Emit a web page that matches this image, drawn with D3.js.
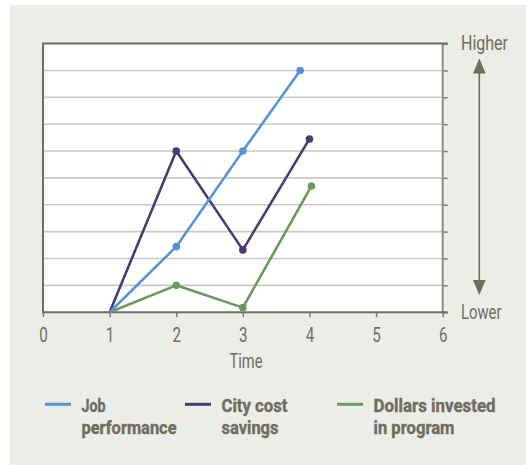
<!DOCTYPE html>
<html><head><meta charset="utf-8">
<script src="https://cdn.jsdelivr.net/npm/d3@7"></script>
<style>
html,body{margin:0;padding:0;background:#fff;}
svg{display:block;}
text{font-family:Roboto,"Liberation Sans",sans-serif;fill:#6d6d60;}
</style></head>
<body>
<script>
// ---- data ----
const seriesNames = ["Job performance", "City cost savings", "Dollars invested in program"];
const legendLines = [["Job", "performance"], ["City cost", "savings"], ["Dollars invested", "in program"]];
const seriesColors = ["#5b93d2", "#4a3c6e", "#6a9a5e"];
const jobX = [1, 2, 3, 3.86];
const jobY = [0, 2.44, 6, 9];
const cityX = [1, 2, 3, 4];
const cityY = [0, 6, 2.32, 6.45];
const dollarsX = [1, 2, 3, 4.03];
const dollarsY = [0, 1, 0.17, 4.7];
const xTicks = [0, 1, 2, 3, 4, 5, 6];
const yTicks = [0, 1, 2, 3, 4, 5, 6, 7, 8, 9, 10];
const xLabel = "Time";
const yTopLabel = "Higher";
const yBottomLabel = "Lower";

// ---- styling (text widths to mimic a condensed face) ----
const legendWidths = [[24, 95], [66, 57], [122, 81]];

const series = [
  {name: seriesNames[0], color: seriesColors[0], pts: jobX.map((x, i) => ({x, y: jobY[i]}))},
  {name: seriesNames[1], color: seriesColors[1], pts: cityX.map((x, i) => ({x, y: cityY[i]}))},
  {name: seriesNames[2], color: seriesColors[2], pts: dollarsX.map((x, i) => ({x, y: dollarsY[i]}))}
];
const drawOrder = [2, 1, 0];

const W = 526, H = 465;
const svg = d3.select("body").append("svg").attr("width", W).attr("height", H);

function fit(sel, w) {
  sel.attr("textLength", w).attr("lengthAdjust", "spacingAndGlyphs");
  return sel;
}

// panel background
svg.append("rect").attr("x", 10).attr("y", 5).attr("width", W - 10).attr("height", H - 5).attr("fill", "#ececE8");

const pL = 43, pR = 442.7, pT = 43.6, pB = 312.2;
const x = d3.scaleLinear().domain([0, 6]).range([pL, pR]);
const y = d3.scaleLinear().domain([0, 10]).range([pB, pT]);

// plot area
svg.append("rect").attr("x", pL).attr("y", pT).attr("width", pR - pL).attr("height", pB - pT).attr("fill", "#fff");

// grid
svg.append("g").selectAll("line").data(yTicks.slice(1, -1)).join("line")
  .attr("x1", pL).attr("x2", pR).attr("y1", d => y(d)).attr("y2", d => y(d))
  .attr("stroke", "#c9c9c1").attr("stroke-width", 1.6);

// right axis with outward ticks
const rightAxis = d3.axisRight(y).tickValues(yTicks).tickSize(5).tickFormat("");
const rg = svg.append("g").attr("transform", `translate(${pR},0)`).call(rightAxis);
rg.select(".domain").remove();
rg.selectAll(".tick line").attr("stroke", "#7d7d72").attr("stroke-width", 1.5);
svg.append("line").attr("x1", pR).attr("x2", pR).attr("y1", pT).attr("y2", pB)
  .attr("stroke", "#8a8a80").attr("stroke-width", 2);

// bottom axis
const bottomAxis = d3.axisBottom(x).tickValues(xTicks).tickSize(5).tickPadding(0).tickFormat(d3.format("d"));
const bg = svg.append("g").attr("transform", `translate(0,${pB})`).call(bottomAxis);
bg.select(".domain").remove();
bg.selectAll(".tick line").attr("stroke", "#7d7d72").attr("stroke-width", 1.5);
bg.selectAll(".tick text").attr("font-size", 21).attr("fill", "#6d6d60")
  .attr("font-family", "Roboto, sans-serif").attr("dy", null).attr("y", 30.3)
  .attr("textLength", 8.5).attr("lengthAdjust", "spacingAndGlyphs");

// frame: left, top, bottom
svg.append("path")
  .attr("d", `M${pR + 5},${pT}H${pL}V${pB}H${pR + 5}`)
  .attr("fill", "none").attr("stroke", "#6d6d60").attr("stroke-width", 2);

// lines
const line = d3.line().x(d => x(d.x)).y(d => y(d.y));
drawOrder.forEach(k => {
  const s = series[k];
  svg.append("path").datum(s.pts).attr("d", line)
    .attr("fill", "none").attr("stroke", s.color).attr("stroke-width", 2.6).attr("stroke-linejoin", "round");
  svg.append("g").selectAll("circle").data(s.pts.slice(1)).join("circle")
    .attr("cx", d => x(d.x)).attr("cy", d => y(d.y)).attr("r", 3.8).attr("fill", s.color);
});

// axis label
fit(svg.append("text").attr("x", 229.5).attr("y", 368.3)
  .attr("font-size", 21).text(xLabel), 33);

// Higher / Lower
const ax = 479.3;
fit(svg.append("text").attr("x", 461).attr("y", 50.2).attr("font-size", 21).text(yTopLabel), 47);
fit(svg.append("text").attr("x", 461).attr("y", 319.3).attr("font-size", 21).text(yBottomLabel), 40.5);
svg.append("line").attr("x1", ax).attr("x2", ax).attr("y1", 70).attr("y2", 282)
  .attr("stroke", "#6d6d60").attr("stroke-width", 1.6);
svg.append("path").attr("d", `M${ax},58.3L${ax + 6.3},73.5L${ax - 6.3},73.5Z`).attr("fill", "#6d6d60");
svg.append("path").attr("d", `M${ax},295L${ax + 6.3},280L${ax - 6.3},280Z`).attr("fill", "#6d6d60");

// legend
const legX = [45, 185, 337];
series.forEach((s, i) => {
  const g = svg.append("g").attr("transform", `translate(${legX[i]},404.3)`);
  g.append("line").attr("x1", 0).attr("x2", 26).attr("y1", 0).attr("y2", 0)
    .attr("stroke", s.color).attr("stroke-width", 3);
  [0, 1].forEach(j => {
    fit(g.append("text").attr("x", 36.5).attr("y", j === 0 ? 7.8 : 30.2)
      .attr("font-size", 17.5).attr("font-weight", "bold")
      .attr("stroke", "#6d6d60").attr("stroke-width", 0.35)
      .text(legendLines[i][j]), legendWidths[i][j]);
  });
});
</script>
</body></html>
